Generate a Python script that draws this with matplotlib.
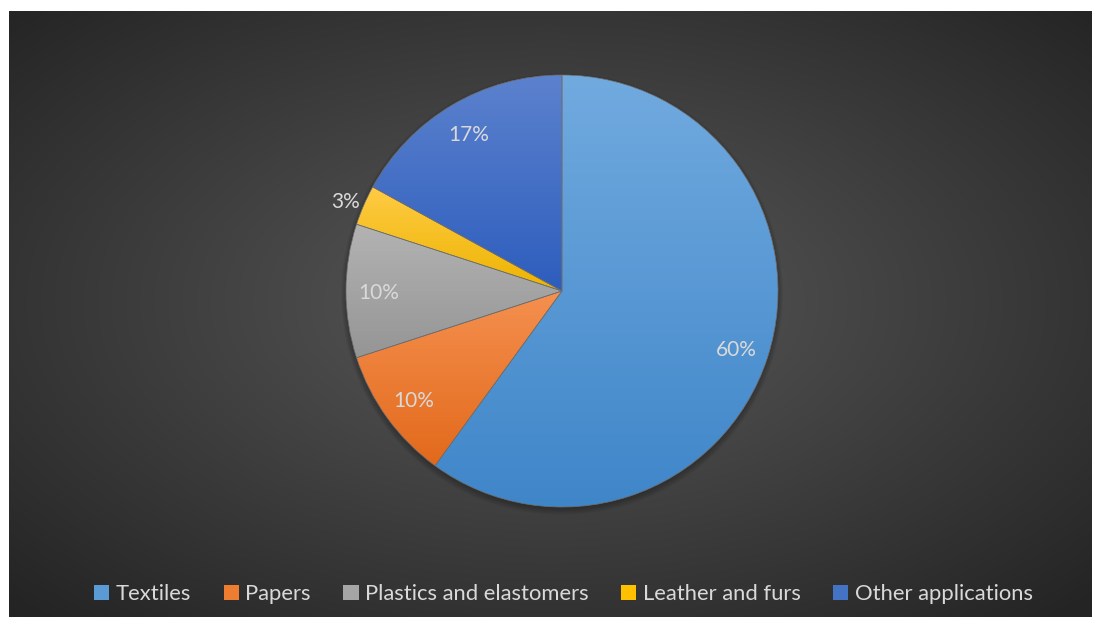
import numpy as np
import matplotlib
matplotlib.use("Agg")
import matplotlib.pyplot as plt
from matplotlib.colors import to_rgb
from matplotlib.patches import Circle

categories = ["Textiles", "Papers", "Plastics and elastomers", "Leather and furs", "Other applications"]
values = [60, 10, 10, 3, 17]
base_colors = ["#5B9BD5", "#ED7D31", "#A5A5A5", "#FFC000", "#4472C4"]
top_colors = ["#71AADF", "#F5904F", "#B3B3B3", "#FFCB45", "#5C82CE"]
bot_colors = ["#3F86C9", "#E2691B", "#959595", "#EDB400", "#2D5DBD"]

W, H = 1102, 626
fig = plt.figure(figsize=(W / 100, H / 100), dpi=100)
fig.patch.set_facecolor("white")
ax = fig.add_axes([0, 0, 1, 1])
ax.set_xlim(0, W)
ax.set_ylim(0, H)
ax.axis("off")

# background radial gradient
x0, x1, y0, y1 = 9, 1092, 9, 615
nx, ny = 400, 220
xs = np.linspace(0, 1, nx)
ys = np.linspace(0, 1, ny)
X, Y = np.meshgrid(xs, ys)
d = np.sqrt(((X - 0.5) / 0.5) ** 2 + ((Y - 0.52) / 0.5) ** 2) / np.sqrt(2)
d = np.clip(d, 0, 1)
c_in = np.array(to_rgb("#5a5a5a"))
c_out = np.array(to_rgb("#242424"))
img = c_in[None, None, :] * (1 - d[..., None]) + c_out[None, None, :] * d[..., None]
ax.imshow(img, extent=(x0, x1, y0, y1), origin="lower", aspect="auto", zorder=0, interpolation="bilinear")

cx, cy, R = 562, H - 291, 216

# soft shadow
for i in range(8):
    ax.add_patch(Circle((cx, cy - 3), R + 5 - i * 0.8, facecolor="black", alpha=0.03, lw=0, zorder=1))

wedges, _ = ax.pie(values, colors=base_colors, startangle=90, counterclock=False,
                   center=(cx, cy), radius=R, frame=False,
                   wedgeprops=dict(linewidth=0.5, edgecolor="#6f6f6f"))
for w in wedges:
    w.set_zorder(2)

# gradient fills clipped to each wedge
for w, tc, bc in zip(wedges, top_colors, bot_colors):
    bb = w.get_path().get_extents(w.get_patch_transform())
    t = np.linspace(0, 1, 256)[:, None]
    g = np.array(to_rgb(bc))[None, None, :] * (1 - t[..., None]) + np.array(to_rgb(tc))[None, None, :] * t[..., None]
    g = np.repeat(g, 2, axis=1)
    im = ax.imshow(g, extent=(bb.x0, bb.x1, bb.y0, bb.y1), origin="lower", aspect="auto", zorder=3,
                   interpolation="bilinear")
    im.set_clip_path(w)

for w in wedges:
    w.set_facecolor("none")
    w.set_zorder(4)

ax.set_xlim(0, W)
ax.set_ylim(0, H)
ax.set_aspect("auto")

# labels
for w, v in zip(wedges, values):
    ang = np.deg2rad((w.theta1 + w.theta2) / 2)
    r = 1.09 if v < 5 else 0.85
    dy = -5 if v < 5 else -2
    ax.text(cx + r * R * np.cos(ang), cy + r * R * np.sin(ang) + dy, f"{v}%",
            ha="center", va="center", color="#D9D9D9", fontsize=15, family="Lato", zorder=5)

handles = [plt.Rectangle((0, 0), 1, 1, facecolor=c) for c in base_colors]
leg = fig.legend(handles, categories, loc="center", bbox_to_anchor=(563.5 / W, 1 - 594 / H), ncol=5,
                 frameon=False, handlelength=0.7, handleheight=0.7, handletextpad=0.3,
                 columnspacing=1.47, prop=dict(family="Lato", size=15.8))
for t in leg.get_texts():
    t.set_color("#D9D9D9")

fig.savefig("out.png", dpi=100, facecolor="white")
